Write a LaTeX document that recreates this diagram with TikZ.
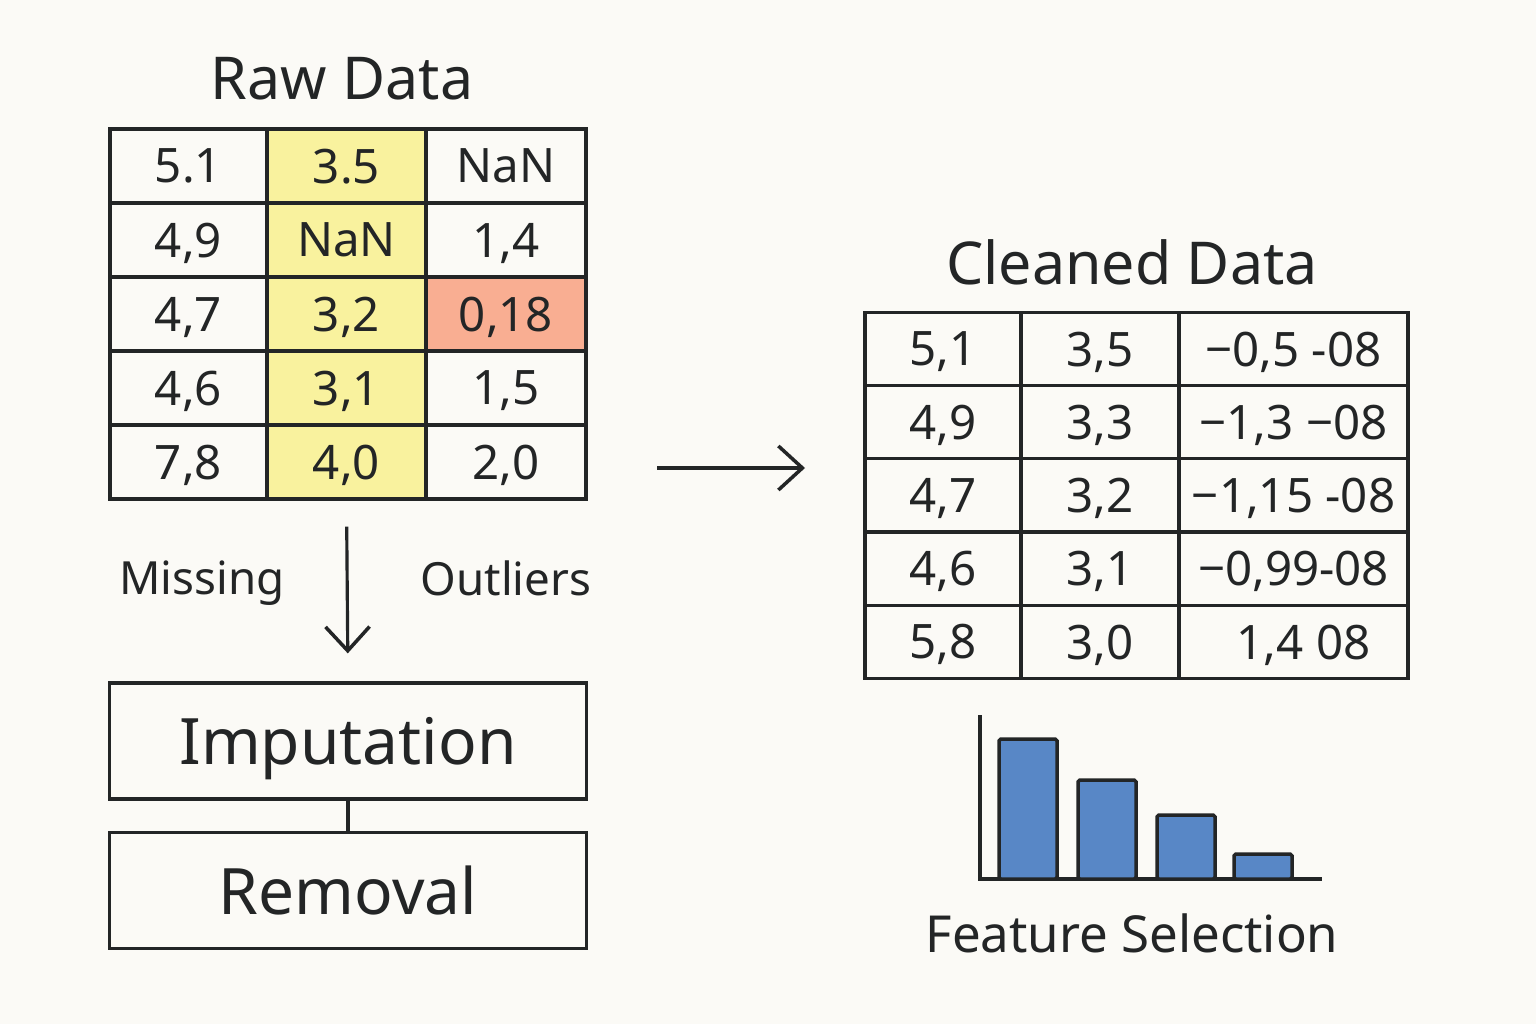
\documentclass[tikz,border=0pt]{standalone}
\usepackage{fontspec}
\setmainfont{Noto Sans}
\usetikzlibrary{arrows.meta,positioning}

\definecolor{paper}{HTML}{FBFAF6}
\definecolor{ink}{HTML}{232526}
\definecolor{missfill}{HTML}{F9F29E}
\definecolor{outfill}{HTML}{F9AE92}
\definecolor{barfill}{HTML}{5887C6}

\tikzset{
	cell/.style={draw, inner sep=0pt, minimum height=0.74cm, text depth=0pt,
		font=\fontsize{13.5}{16}\selectfont},
	title/.style={font=\fontsize{16.8}{20}\selectfont, text depth=0pt},
	side/.style={font=\fontsize{13}{15}\selectfont, text depth=0pt},
	stagebox/.style={draw, inner sep=0pt, minimum width=4.76cm, minimum height=1.16cm,
		text depth=0pt, font=\fontsize{18.2}{21}\selectfont},
	arr/.style={-{Straight Barb[length=2.4mm,width=4.4mm,line width=1pt]}},
	bar/.style={draw, fill=barfill, line width=1pt, rounded corners=0.5pt}
}

\begin{document}
\begin{tikzpicture}[x=0.01cm, y=-0.01cm, line width=0.9pt, color=ink]
	\fill[paper] (0,0) rectangle (1536,1024);

	% raw data
	\node[title] (rawtitle) at (342,78) {Raw Data};
	\foreach \a/\b/\c/\f [count=\r] in {5.1/3.5/NaN/paper, {4,9}/NaN/{1,4}/paper,
			{4,7}/{3,2}/{0,18}/outfill, {4,6}/{3,1}/{1,5}/paper, {7,8}/{4,0}/{2,0}/paper} {
		\node[cell, minimum width=1.57cm, fill=paper]   (raw-\r-1) at (188.5,{166+74*(\r-1)}) {\a};
		\node[cell, minimum width=1.59cm, fill=missfill] (raw-\r-2) at (346.5,{166+74*(\r-1)}) {\b};
		\node[cell, minimum width=1.60cm, fill=\f]       (raw-\r-3) at (506,{166+74*(\r-1)}) {\c};
	}

	% cleaned data
	\node[title] (cleantitle) at (1132,262) {Cleaned Data};
	\foreach \a/\b/\c [count=\r] in {{5,1}/{3,5}/{−0,5 -08}, {4,9}/{3,3}/{−1,3 −08},
			{4,7}/{3,2}/{−1,15 -08}, {4,6}/{3,1}/{−0,99-08}, {5,8}/{3,0}/{\hspace{0.2cm}1,4 08}} {
		\node[cell, minimum width=1.56cm, minimum height=0.733cm] (clean-\r-1) at (943,{349+73.2*(\r-1)}) {\a};
		\node[cell, minimum width=1.58cm, minimum height=0.733cm] (clean-\r-2) at (1100,{349+73.2*(\r-1)}) {\b};
		\node[cell, minimum width=2.29cm, minimum height=0.733cm] (clean-\r-3) at (1293.5,{349+73.2*(\r-1)}) {\c};
	}

	\coordinate (go-from) at (657,468);
	\coordinate (go-to)   at (805,468);
	\draw[arr] (go-from) -- (go-to);

	% cleaning steps
	\node[side] (missing)  at (202,578) {Missing};
	\node[side] (outliers) at (506,578) {Outliers};
	\node[stagebox] (imputation) at (348,741) {Imputation};
	\node[stagebox] (removal)    [below=0.3cm of imputation] {Removal};
	\draw[arr, shorten <=0.26cm, shorten >=0.28cm] (raw-5-2.south) -- (imputation.north);
	\draw (imputation) -- (removal);

	% feature selection
	\draw[line width=1pt] (980,715) -- (980,879) -- (1322,879);
	\foreach \x/\h in {999/739, 1078/780, 1157/815, 1234/854}
		\draw[bar] (\x,879) rectangle ({\x+58},\h);
	\node[side, font=\fontsize{14.5}{17}\selectfont] (featuretitle) at (1132,933) {Feature Selection};
\end{tikzpicture}
\end{document}
